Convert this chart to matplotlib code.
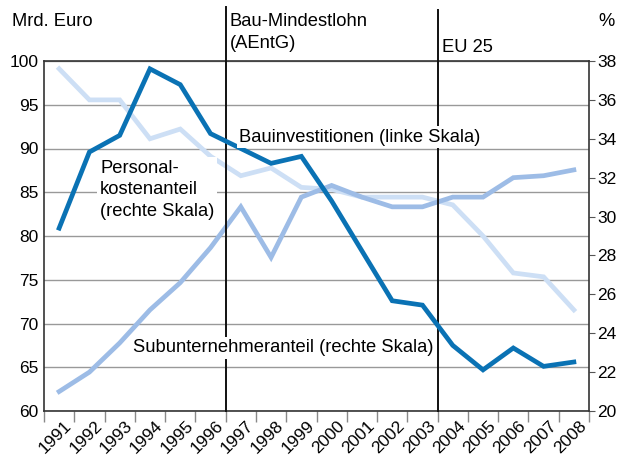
import numpy as np
import matplotlib.pyplot as plt
from matplotlib.transforms import ScaledTranslation, blended_transform_factory

plt.rcParams['font.family'] = ['Liberation Sans', 'DejaVu Sans']

years = [str(y) for y in range(1991, 2009)]

# Bauinvestitionen, Mrd. Euro (linke Skala)
bauinvestitionen = [80.9, 89.6, 91.5, 99.1, 97.3, 91.7, 90.0, 88.3, 89.1, 84.0,
                    78.3, 72.6, 72.1, 67.5, 64.7, 67.2, 65.1, 65.6]
# Personalkostenanteil, % (rechte Skala)
personalkosten = [37.6, 36.0, 36.0, 34.0, 34.5, 33.1, 32.1, 32.5, 31.5, 31.4,
                  31.0, 31.0, 31.0, 30.6, 29.0, 27.1, 26.9, 25.2]
# Subunternehmeranteil, % (rechte Skala)
subunternehmer = [21.0, 22.0, 23.5, 25.2, 26.6, 28.4, 30.5, 27.9, 31.0, 31.6,
                  31.0, 30.5, 30.5, 31.0, 31.0, 32.0, 32.1, 32.4]

events = {'Bau-Mindestlohn\n(AEntG)': 1997, 'EU 25': 2004}

dark = '#0a72b4'
medium = '#9dbce6'
light = '#cddff5'
fs = 13.2
tfs = 12.5

W, H = 617, 455
fig = plt.figure(figsize=(W / 100, H / 100), dpi=100)
rect = [44 / W, 1 - 411 / H, 545 / W, 350 / H]
ax = fig.add_axes(rect)
ax2 = ax.twinx()
ax3 = ax.twinx()

x = np.arange(len(years)) + 0.5
for a in (ax, ax2, ax3):
    a.set_xlim(0, len(years))

# left scale, grid, bottom axis
ax.set_ylim(60, 100)
ax.set_yticks(np.arange(60, 101, 5))
ax.yaxis.grid(True, color='#999999', lw=1.0)
ax.set_axisbelow(True)
ax.tick_params(axis='y', length=0, labelsize=tfs, pad=4)
ax.set_xticks(np.arange(len(years) + 1))
ax.set_xticklabels([])
ax.set_xticks(x, minor=True)
ax.set_xticklabels(years, minor=True, rotation=45, ha='right', va='top',
                   rotation_mode='anchor', fontsize=tfs)
ax.tick_params(axis='x', which='major', length=8, color='#888888', width=1)
ax.tick_params(axis='x', which='minor', length=0, pad=5)
off = ScaledTranslation(5 / 100, 0, fig.dpi_scale_trans)
for lbl in ax.get_xticklabels(minor=True):
    lbl.set_transform(lbl.get_transform() + off)
for s in ('left', 'top', 'bottom'):
    ax.spines[s].set_color('#333333')
    ax.spines[s].set_linewidth(1.2)
ax.spines['right'].set_visible(False)

# right scale: shares
ax2.set_ylim(20, 38)
ax2.set_yticks(np.arange(20, 39, 2))
ax2.tick_params(axis='y', length=4, color='#555555', labelsize=tfs, pad=2)
ax2.spines['right'].set_color('#333333')
ax2.spines['right'].set_linewidth(1.2)
for s in ('left', 'top', 'bottom'):
    ax2.spines[s].set_visible(False)
ax2.plot(x, personalkosten, color=light, lw=3.4, solid_joinstyle='miter', zorder=2)
ax2.plot(x, subunternehmer, color=medium, lw=3.4, solid_joinstyle='miter', zorder=3)

# top layer on the left scale: investment line, markers for events, labels
ax3.set_ylim(60, 100)
ax3.axis('off')
trans = blended_transform_factory(ax3.transData, ax3.transAxes)
for label, yr in events.items():
    xe = years.index(str(yr))
    top = 1.155 if yr == 1997 else 1.146
    ax3.plot([xe, xe], [0, top], color='#111111', lw=1.4, transform=trans,
             clip_on=False, zorder=2)
    ax3.text(xe + 0.13, 1.0 + (48 if yr == 1997 else 22) / 350, label,
             transform=trans, fontsize=fs, ha='left', va='top', linespacing=1.4)
ax3.plot(x, bauinvestitionen, color=dark, lw=3.4, solid_joinstyle='miter', zorder=4)

box = dict(facecolor='white', edgecolor='none', pad=2)
ax3.text(6.45, 91.3, 'Bauinvestitionen (linke Skala)', fontsize=fs,
         va='center', ha='left', bbox=box, zorder=6)
ax3.text(1.85, 85.3, 'Personal-\nkostenanteil\n(rechte Skala)', fontsize=fs,
         va='center', ha='left', bbox=box, linespacing=1.35, zorder=6)
ax3.text(2.95, 67.2, 'Subunternehmeranteil (rechte Skala)', fontsize=fs,
         va='center', ha='left', bbox=box, zorder=6)

fig.text(12 / W, 1 - 22 / H, 'Mrd. Euro', fontsize=fs, va='center', ha='left')
fig.text(615 / W, 1 - 22 / H, '%', fontsize=fs, va='center', ha='right')

fig.savefig('out.png', dpi=100)
